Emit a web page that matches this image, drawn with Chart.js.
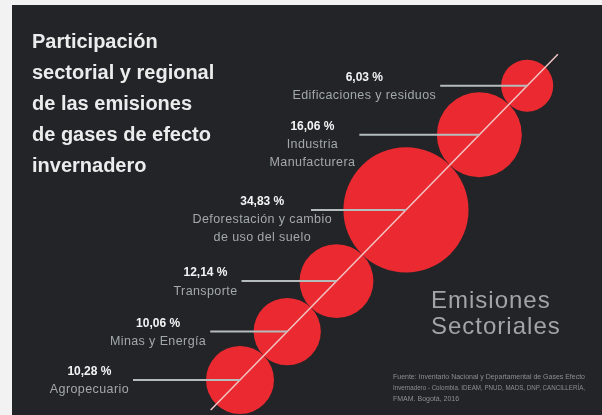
<!DOCTYPE html>
<html>
<head>
<meta charset="utf-8">
<script src="https://cdn.jsdelivr.net/npm/chart.js@4.4.1/dist/chart.umd.min.js"></script>
<style>
  html, body { margin: 0; padding: 0; background: #f2f2f2; }
  #wrap { width: 602px; height: 415px; position: relative; }
</style>
</head>
<body>
<div id="wrap"><canvas id="chart"></canvas></div>
<script>
// Sectors, from the bottom-left bubble up to the top-right one
const sectors = [
  ['Agropecuario'],
  ['Minas y Energía'],
  ['Transporte'],
  ['Deforestación y cambio', 'de uso del suelo'],
  ['Industria', 'Manufacturera'],
  ['Edificaciones y residuos'],
];
const shares = [10.28, 10.06, 12.14, 34.83, 16.06, 6.03];

const titleLines = [
  'Participación',
  'sectorial y regional',
  'de las emisiones',
  'de gases de efecto',
  'invernadero',
];
const subtitleLines = ['Emisiones', 'Sectoriales'];
const sourceLines = [
  'Fuente: Inventario Nacional y Departamental de Gases Efecto',
  'Invernadero - Colombia. IDEAM, PNUD, MADS, DNP, CANCILLERÍA,',
  'FMAM. Bogotá, 2016',
];

// layout
const W = 602;
const H = 415;
const bubbleScale = 10.6; // px of radius per sqrt(%)
const chainStart = { x: 240, y: 380 };
const chainAngle = (45.7 * Math.PI) / 180;
const leaderLength = [107, 77, 95, 95, 120, 87];
const labelShift = [0, 0, 0, 25, 0, 0];

const red = '#ea2a30';
const panel = '#222428';

// bubbles touch each other along the diagonal
const dirX = Math.cos(chainAngle);
const dirY = Math.sin(chainAngle);
const radii = shares.map((v) => bubbleScale * Math.sqrt(v));
let along = 0;
const bubbles = radii.map((r, i) => {
  if (i > 0) along += radii[i - 1] + r;
  return { x: chainStart.x + along * dirX, y: chainStart.y - along * dirY, r };
});
const axisLine = [-42, along + 44].map((s) => ({
  x: chainStart.x + s * dirX,
  y: chainStart.y - s * dirY,
}));

const fmt = (v) => v.toFixed(2).replace('.', ',') + ' %';

const backgroundPlugin = {
  id: 'backgroundPlugin',
  beforeDraw(chart) {
    const { ctx } = chart;
    ctx.save();
    ctx.fillStyle = '#f2f2f2';
    ctx.fillRect(0, 0, W, H);
    ctx.fillStyle = panel;
    ctx.fillRect(12, 5, W - 12, H - 5);

    // title
    ctx.fillStyle = '#ececec';
    ctx.font = 'bold 20px "Liberation Sans", Arial, sans-serif';
    ctx.textBaseline = 'alphabetic';
    titleLines.forEach((line, i) => {
      ctx.fillText(line, 32, 48 + i * 31);
    });

    // right hand caption
    ctx.fillStyle = '#a2a4a6';
    ctx.font = '24px "Liberation Sans", Arial, sans-serif';
    ctx.letterSpacing = '1px';
    subtitleLines.forEach((line, i) => {
      ctx.fillText(line, 431, 308 + i * 26);
    });
    ctx.letterSpacing = '0px';

    ctx.fillStyle = '#8c8f92';
    ctx.font = '7px "Liberation Sans", Arial, sans-serif';
    sourceLines.forEach((line, i) => {
      const maxW = i < 2 ? 192 : 72;
      ctx.fillText(line, 393, 379 + i * 11, maxW);
    });
    ctx.restore();
  },
};

const labelsPlugin = {
  id: 'labelsPlugin',
  afterDatasetsDraw(chart) {
    const { ctx } = chart;
    const meta = chart.getDatasetMeta(1);
    ctx.save();
    meta.data.forEach((el, i) => {
      const cx = el.x;
      const cy = el.y;
      const x0 = cx - leaderLength[i];

      ctx.strokeStyle = '#b5bcbc';
      ctx.lineWidth = 2;
      ctx.beginPath();
      ctx.moveTo(x0, cy);
      ctx.lineTo(cx, cy);
      ctx.stroke();

      const pct = fmt(shares[i]);
      ctx.font = 'bold 12px "Liberation Sans", Arial, sans-serif';
      const pw = ctx.measureText(pct).width;
      ctx.font = '12.5px "Liberation Sans", Arial, sans-serif';
      ctx.letterSpacing = '0.4px';
      const nw = Math.max(...sectors[i].map((t) => ctx.measureText(t).width));
      const bx = x0 - Math.max(pw, nw) / 2 - 4 + labelShift[i];

      ctx.textAlign = 'center';
      ctx.textBaseline = 'middle';
      ctx.fillStyle = '#a3a9a9';
      sectors[i].forEach((t, k) => {
        ctx.fillText(t, bx, cy + 10 + k * 18);
      });
      ctx.letterSpacing = '0px';
      ctx.fillStyle = '#f4f4f4';
      ctx.font = 'bold 12px "Liberation Sans", Arial, sans-serif';
      ctx.fillText(pct, bx, cy - 8);
    });
    ctx.restore();
  },
};

new Chart(document.getElementById('chart'), {
  type: 'bubble',
  data: {
    datasets: [
      {
        type: 'line',
        data: axisLine,
        borderColor: '#f2c4c4',
        borderWidth: 1.5,
        pointRadius: 0,
        order: 0,
        clip: false,
      },
      {
        data: bubbles,
        backgroundColor: red,
        borderWidth: 0,
        hoverRadius: 0,
        order: 1,
        clip: false,
      },
    ],
  },
  options: {
    responsive: true,
    maintainAspectRatio: false,
    animation: false,
    layout: { padding: 0, autoPadding: false },
    plugins: {
      legend: { display: false },
      tooltip: { enabled: false },
    },
    scales: {
      x: { type: 'linear', min: 0, max: W, display: false },
      y: { type: 'linear', min: 0, max: H, reverse: true, display: false },
    },
  },
  plugins: [backgroundPlugin, labelsPlugin],
});
</script>
</body>
</html>
